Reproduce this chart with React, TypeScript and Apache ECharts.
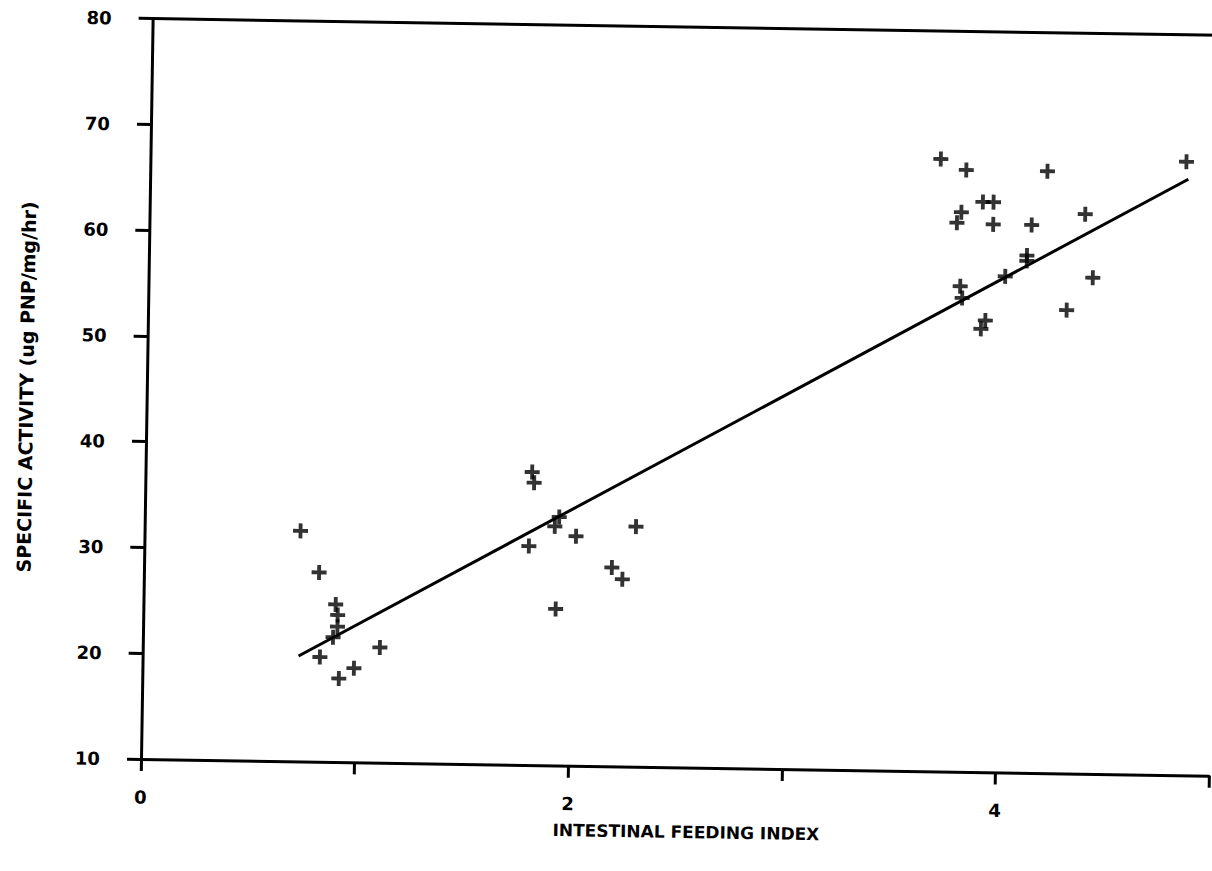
import React, { useEffect, useRef } from "react";
import * as echarts from "echarts";

// Intestinal feeding index (x) and specific activity (y) of each sample
const feedingIndex: number[] = [
  0.73, 0.82, 0.9, 0.91, 0.91, 0.89, 0.83, 0.92, 0.99, 1.11,
  1.81, 1.82, 1.94, 1.92, 1.8, 2.02, 2.3, 2.19, 2.24, 1.93,
  3.7, 3.82, 4.2, 4.85, 3.9, 3.95, 3.8, 3.78, 3.95, 4.13,
  4.38, 4.11, 4.11, 4.01, 4.42, 3.8, 3.81, 4.3, 3.92, 3.9,
];
const specificActivity: number[] = [
  31.8, 27.9, 24.9, 23.9, 22.8, 21.8, 19.9, 17.9, 18.9, 20.9,
  37.7, 36.7, 33.5, 32.6, 30.7, 31.7, 32.7, 28.8, 27.7, 24.8,
  67.9, 66.9, 66.9, 68.0, 63.9, 63.9, 62.9, 61.9, 61.8, 61.8,
  62.9, 58.9, 58.4, 56.9, 56.9, 55.9, 54.8, 53.8, 52.7, 51.9,
];

// Regression line end points
const fitX: number[] = [0.73, 4.86];
const fitY: number[] = [19.97, 66.35];

const xTickLabels: string[] = ["0", "", "2", "", "4", ""];
const xTitle = "INTESTINAL FEEDING INDEX";
const yTitle = "SPECIFIC ACTIVITY (ug PNP/mg/hr)";

const FONT = "DejaVu Sans";
const PLUS =
  "path://M5.2,0H8.8V5.2H14V8.8H8.8V14H5.2V8.8H0V5.2H5.2Z";

export default function App() {
  const ref = useRef<HTMLDivElement>(null);

  useEffect(() => {
    if (!ref.current) return;
    const chart = echarts.init(ref.current, null, { renderer: "svg" });
    const points = feedingIndex.map((x, i) => [x, specificActivity[i]]);
    const line = fitX.map((x, i) => [x, fitY[i]]);
    const axisLine = { show: true, lineStyle: { color: "#000", width: 3 } };

    chart.setOption({
      animation: false,
      backgroundColor: "#fff",
      grid: { left: 141, top: 18.5, width: 1076, height: 740.5 },
      xAxis: [
        {
          type: "value",
          min: 0,
          max: 5,
          interval: 1,
          position: "bottom",
          axisLine,
          axisTick: {
            show: true,
            length: 12,
            lineStyle: { color: "#000", width: 3 },
          },
          splitLine: { show: false },
          axisLabel: {
            margin: 29,
            color: "#000",
            fontFamily: FONT,
            fontWeight: "bold",
            fontSize: 18,
            formatter: (v: number) => xTickLabels[Math.round(v)] ?? "",
          },
          name: xTitle,
          nameLocation: "middle",
          nameGap: 56,
          nameTextStyle: {
            color: "#000",
            fontFamily: FONT,
            fontWeight: "bold",
            fontSize: 17,
            padding: [0, 0, 0, 24],
          },
        },
        {
          type: "value",
          min: 0,
          max: 5,
          position: "top",
          axisLine,
          axisTick: { show: false },
          axisLabel: { show: false },
          splitLine: { show: false },
        },
      ],
      yAxis: {
        type: "value",
        min: 10,
        max: 80,
        interval: 10,
        axisLine,
        axisTick: {
          show: true,
          length: 14,
          lineStyle: { color: "#000", width: 3 },
        },
        splitLine: { show: false },
        axisLabel: {
          margin: 41,
          color: "#000",
          fontFamily: FONT,
          fontWeight: "bold",
          fontSize: 18,
        },
        name: yTitle,
        nameLocation: "middle",
        nameGap: 111,
        nameTextStyle: {
          color: "#000",
          fontFamily: FONT,
          fontWeight: "bold",
          fontSize: 19,
        },
      },
      series: [
        {
          type: "line",
          xAxisIndex: 0,
          data: line,
          symbol: "none",
          lineStyle: { color: "#000", width: 3 },
          silent: true,
        },
        {
          type: "scatter",
          xAxisIndex: 0,
          data: points,
          symbol: PLUS,
          symbolSize: 15,
          itemStyle: { color: "#000" },
        },
      ],
    });
    return () => chart.dispose();
  }, []);

  return (
    <div
      ref={ref}
      style={{
        position: "absolute",
        left: 0,
        top: 0,
        width: 1212,
        height: 871,
        background: "#fff",
        transform: "rotate(0.9deg)",
        transformOrigin: "141px 759px",
      }}
    />
  );
}
